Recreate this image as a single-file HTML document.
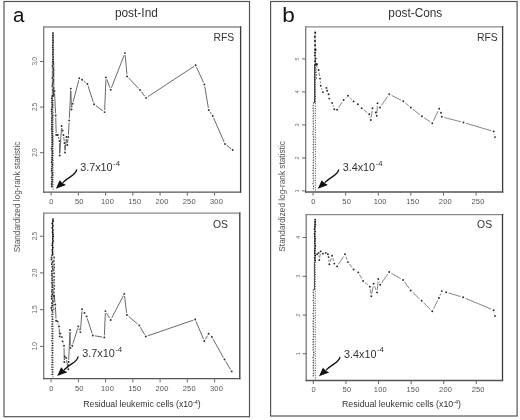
<!DOCTYPE html><html><head><meta charset="utf-8"><style>html,body{margin:0;padding:0;background:#fff;}svg{display:block;will-change:transform;}</style></head><body>
<svg width="520" height="420" viewBox="0 0 520 420" font-family="Liberation Sans, sans-serif">
<rect width="520" height="420" fill="#fff"/>
<rect x="4" y="1.5" width="245.5" height="415.2" fill="none" stroke="#555" stroke-width="1.2"/>
<rect x="270.6" y="1.5" width="246.5" height="414.5" fill="none" stroke="#555" stroke-width="1.2"/>
<text x="13.1" y="21.6" font-size="20.5" fill="#111">a</text>
<text transform="translate(282.2,21.8) scale(1.1,1)" font-size="20.5" fill="#111">b</text>
<text x="114.9" y="16.6" font-size="11.9" fill="#333">post-Ind</text>
<text x="388.3" y="16.5" font-size="11.85" fill="#333">post-Cons</text>
<text transform="translate(20.2,196.9) rotate(-90)" text-anchor="middle" font-size="8.25" fill="#555">Standardized log-rank statistic</text>
<text transform="translate(284.6,196.4) rotate(-90)" text-anchor="middle" font-size="8.25" fill="#555">Standardized log-rank statistic</text>
<text x="83.3" y="407.2" font-size="8.7" fill="#333">Residual leukemic cells (x10<tspan font-size="5.5" dy="-3.2">-4</tspan><tspan dy="3.2">)</tspan></text>
<text x="342" y="407.2" font-size="8.82" fill="#333">Residual leukemic cells (x10<tspan font-size="5.5" dy="-3.2">-4</tspan><tspan dy="3.2">)</tspan></text>
<line x1="43.7" y1="27" x2="43.7" y2="192.1" stroke="#7a7a7a" stroke-width="1.3" stroke-linecap="square"/><line x1="43.7" y1="27" x2="240.6" y2="27" stroke="#8a8a8a" stroke-width="1.3" stroke-linecap="square"/><line x1="240.6" y1="27" x2="240.6" y2="192.1" stroke="#3a3a3a" stroke-width="1.3" stroke-linecap="square"/><line x1="43.7" y1="192.1" x2="240.6" y2="192.1" stroke="#555" stroke-width="1.3" stroke-linecap="square"/>
<line x1="43.7" y1="213.2" x2="43.7" y2="378.7" stroke="#7a7a7a" stroke-width="1.3" stroke-linecap="square"/><line x1="43.7" y1="213.2" x2="239.8" y2="213.2" stroke="#8a8a8a" stroke-width="1.3" stroke-linecap="square"/><line x1="239.8" y1="213.2" x2="239.8" y2="378.7" stroke="#3a3a3a" stroke-width="1.3" stroke-linecap="square"/><line x1="43.7" y1="378.7" x2="239.8" y2="378.7" stroke="#555" stroke-width="1.3" stroke-linecap="square"/>
<line x1="305.7" y1="26.8" x2="305.7" y2="192" stroke="#7a7a7a" stroke-width="1.3" stroke-linecap="square"/><line x1="305.7" y1="26.8" x2="502.6" y2="26.8" stroke="#8a8a8a" stroke-width="1.3" stroke-linecap="square"/><line x1="502.6" y1="26.8" x2="502.6" y2="192" stroke="#3a3a3a" stroke-width="1.3" stroke-linecap="square"/><line x1="305.7" y1="192" x2="502.6" y2="192" stroke="#555" stroke-width="1.3" stroke-linecap="square"/>
<line x1="306.2" y1="214.6" x2="306.2" y2="380.5" stroke="#7a7a7a" stroke-width="1.3" stroke-linecap="square"/><line x1="306.2" y1="214.6" x2="502.5" y2="214.6" stroke="#8a8a8a" stroke-width="1.3" stroke-linecap="square"/><line x1="502.5" y1="214.6" x2="502.5" y2="380.5" stroke="#3a3a3a" stroke-width="1.3" stroke-linecap="square"/><line x1="306.2" y1="380.5" x2="502.5" y2="380.5" stroke="#555" stroke-width="1.3" stroke-linecap="square"/>
<line x1="51.1" y1="192.6" x2="51.1" y2="195.6" stroke="#555" stroke-width="0.9"/><text x="51.4" y="204.2" font-size="7.5" fill="#555" text-anchor="middle" letter-spacing="0.2">0</text><line x1="78.35" y1="192.6" x2="78.35" y2="195.6" stroke="#555" stroke-width="0.9"/><text x="79.35" y="204.2" font-size="7.5" fill="#555" text-anchor="middle" letter-spacing="0.2">50</text><line x1="105.6" y1="192.6" x2="105.6" y2="195.6" stroke="#555" stroke-width="0.9"/><text x="107.5" y="204.2" font-size="7.5" fill="#555" text-anchor="middle" letter-spacing="0.2">100</text><line x1="132.85" y1="192.6" x2="132.85" y2="195.6" stroke="#555" stroke-width="0.9"/><text x="134.75" y="204.2" font-size="7.5" fill="#555" text-anchor="middle" letter-spacing="0.2">150</text><line x1="160.1" y1="192.6" x2="160.1" y2="195.6" stroke="#555" stroke-width="0.9"/><text x="162" y="204.2" font-size="7.5" fill="#555" text-anchor="middle" letter-spacing="0.2">200</text><line x1="187.35" y1="192.6" x2="187.35" y2="195.6" stroke="#555" stroke-width="0.9"/><text x="189.25" y="204.2" font-size="7.5" fill="#555" text-anchor="middle" letter-spacing="0.2">250</text><line x1="214.6" y1="192.6" x2="214.6" y2="195.6" stroke="#555" stroke-width="0.9"/><text x="216.5" y="204.2" font-size="7.5" fill="#555" text-anchor="middle" letter-spacing="0.2">300</text>
<line x1="51.1" y1="379.3" x2="51.1" y2="382.3" stroke="#555" stroke-width="0.9"/><text x="51.4" y="390.6" font-size="7.5" fill="#555" text-anchor="middle" letter-spacing="0.2">0</text><line x1="78.35" y1="379.3" x2="78.35" y2="382.3" stroke="#555" stroke-width="0.9"/><text x="79.35" y="390.6" font-size="7.5" fill="#555" text-anchor="middle" letter-spacing="0.2">50</text><line x1="105.6" y1="379.3" x2="105.6" y2="382.3" stroke="#555" stroke-width="0.9"/><text x="107.5" y="390.6" font-size="7.5" fill="#555" text-anchor="middle" letter-spacing="0.2">100</text><line x1="132.85" y1="379.3" x2="132.85" y2="382.3" stroke="#555" stroke-width="0.9"/><text x="134.75" y="390.6" font-size="7.5" fill="#555" text-anchor="middle" letter-spacing="0.2">150</text><line x1="160.1" y1="379.3" x2="160.1" y2="382.3" stroke="#555" stroke-width="0.9"/><text x="162" y="390.6" font-size="7.5" fill="#555" text-anchor="middle" letter-spacing="0.2">200</text><line x1="187.35" y1="379.3" x2="187.35" y2="382.3" stroke="#555" stroke-width="0.9"/><text x="189.25" y="390.6" font-size="7.5" fill="#555" text-anchor="middle" letter-spacing="0.2">250</text><line x1="214.6" y1="379.3" x2="214.6" y2="382.3" stroke="#555" stroke-width="0.9"/><text x="216.5" y="390.6" font-size="7.5" fill="#555" text-anchor="middle" letter-spacing="0.2">300</text>
<line x1="313.1" y1="192.6" x2="313.1" y2="195.6" stroke="#555" stroke-width="0.9"/><text x="313.4" y="204" font-size="7.5" fill="#555" text-anchor="middle" letter-spacing="0.2">0</text><line x1="345.7" y1="192.6" x2="345.7" y2="195.6" stroke="#555" stroke-width="0.9"/><text x="346.7" y="204" font-size="7.5" fill="#555" text-anchor="middle" letter-spacing="0.2">50</text><line x1="378.3" y1="192.6" x2="378.3" y2="195.6" stroke="#555" stroke-width="0.9"/><text x="380.2" y="204" font-size="7.5" fill="#555" text-anchor="middle" letter-spacing="0.2">100</text><line x1="410.9" y1="192.6" x2="410.9" y2="195.6" stroke="#555" stroke-width="0.9"/><text x="412.8" y="204" font-size="7.5" fill="#555" text-anchor="middle" letter-spacing="0.2">150</text><line x1="443.5" y1="192.6" x2="443.5" y2="195.6" stroke="#555" stroke-width="0.9"/><text x="445.4" y="204" font-size="7.5" fill="#555" text-anchor="middle" letter-spacing="0.2">200</text><line x1="476.1" y1="192.6" x2="476.1" y2="195.6" stroke="#555" stroke-width="0.9"/><text x="478" y="204" font-size="7.5" fill="#555" text-anchor="middle" letter-spacing="0.2">250</text>
<line x1="313.3" y1="381.1" x2="313.3" y2="384.1" stroke="#555" stroke-width="0.9"/><text x="313.6" y="392.3" font-size="7.5" fill="#555" text-anchor="middle" letter-spacing="0.2">0</text><line x1="345.9" y1="381.1" x2="345.9" y2="384.1" stroke="#555" stroke-width="0.9"/><text x="346.9" y="392.3" font-size="7.5" fill="#555" text-anchor="middle" letter-spacing="0.2">50</text><line x1="378.5" y1="381.1" x2="378.5" y2="384.1" stroke="#555" stroke-width="0.9"/><text x="380.4" y="392.3" font-size="7.5" fill="#555" text-anchor="middle" letter-spacing="0.2">100</text><line x1="411.1" y1="381.1" x2="411.1" y2="384.1" stroke="#555" stroke-width="0.9"/><text x="413" y="392.3" font-size="7.5" fill="#555" text-anchor="middle" letter-spacing="0.2">150</text><line x1="443.7" y1="381.1" x2="443.7" y2="384.1" stroke="#555" stroke-width="0.9"/><text x="445.6" y="392.3" font-size="7.5" fill="#555" text-anchor="middle" letter-spacing="0.2">200</text><line x1="476.3" y1="381.1" x2="476.3" y2="384.1" stroke="#555" stroke-width="0.9"/><text x="478.2" y="392.3" font-size="7.5" fill="#555" text-anchor="middle" letter-spacing="0.2">250</text>
<line x1="40" y1="61.5" x2="43.6" y2="61.5" stroke="#555" stroke-width="0.9"/><text transform="translate(37.1,61.5) rotate(-90)" text-anchor="middle" font-size="6.6" fill="#6a6a6a" letter-spacing="-0.4">3.0</text><line x1="40" y1="107.1" x2="43.6" y2="107.1" stroke="#555" stroke-width="0.9"/><text transform="translate(37.1,107.1) rotate(-90)" text-anchor="middle" font-size="6.6" fill="#6a6a6a" letter-spacing="-0.4">2.5</text><line x1="40" y1="152.7" x2="43.6" y2="152.7" stroke="#555" stroke-width="0.9"/><text transform="translate(37.1,152.7) rotate(-90)" text-anchor="middle" font-size="6.6" fill="#6a6a6a" letter-spacing="-0.4">2.0</text>
<line x1="40" y1="236.2" x2="43.6" y2="236.2" stroke="#555" stroke-width="0.9"/><text transform="translate(37.1,236.2) rotate(-90)" text-anchor="middle" font-size="6.6" fill="#6a6a6a" letter-spacing="-0.4">2.5</text><line x1="40" y1="272.9" x2="43.6" y2="272.9" stroke="#555" stroke-width="0.9"/><text transform="translate(37.1,272.9) rotate(-90)" text-anchor="middle" font-size="6.6" fill="#6a6a6a" letter-spacing="-0.4">2.0</text><line x1="40" y1="309.7" x2="43.6" y2="309.7" stroke="#555" stroke-width="0.9"/><text transform="translate(37.1,309.7) rotate(-90)" text-anchor="middle" font-size="6.6" fill="#6a6a6a" letter-spacing="-0.4">1.5</text><line x1="40" y1="346.4" x2="43.6" y2="346.4" stroke="#555" stroke-width="0.9"/><text transform="translate(37.1,346.4) rotate(-90)" text-anchor="middle" font-size="6.6" fill="#6a6a6a" letter-spacing="-0.4">1.0</text>
<line x1="302.1" y1="58.9" x2="305.7" y2="58.9" stroke="#555" stroke-width="0.9"/><text transform="translate(299.2,58.9) rotate(-90)" text-anchor="middle" font-size="5.6" fill="#6a6a6a" letter-spacing="0">5</text><line x1="302.1" y1="91.9" x2="305.7" y2="91.9" stroke="#555" stroke-width="0.9"/><text transform="translate(299.2,91.9) rotate(-90)" text-anchor="middle" font-size="5.6" fill="#6a6a6a" letter-spacing="0">4</text><line x1="302.1" y1="124.9" x2="305.7" y2="124.9" stroke="#555" stroke-width="0.9"/><text transform="translate(299.2,124.9) rotate(-90)" text-anchor="middle" font-size="5.6" fill="#6a6a6a" letter-spacing="0">3</text><line x1="302.1" y1="157.9" x2="305.7" y2="157.9" stroke="#555" stroke-width="0.9"/><text transform="translate(299.2,157.9) rotate(-90)" text-anchor="middle" font-size="5.6" fill="#6a6a6a" letter-spacing="0">2</text><line x1="302.1" y1="190.9" x2="305.7" y2="190.9" stroke="#555" stroke-width="0.9"/><text transform="translate(299.2,190.9) rotate(-90)" text-anchor="middle" font-size="5.6" fill="#6a6a6a" letter-spacing="0">1</text>
<line x1="302.6" y1="237.5" x2="306.2" y2="237.5" stroke="#555" stroke-width="0.9"/><text transform="translate(299.7,237.5) rotate(-90)" text-anchor="middle" font-size="5.6" fill="#6a6a6a" letter-spacing="0">4</text><line x1="302.6" y1="276.3" x2="306.2" y2="276.3" stroke="#555" stroke-width="0.9"/><text transform="translate(299.7,276.3) rotate(-90)" text-anchor="middle" font-size="5.6" fill="#6a6a6a" letter-spacing="0">3</text><line x1="302.6" y1="315.1" x2="306.2" y2="315.1" stroke="#555" stroke-width="0.9"/><text transform="translate(299.7,315.1) rotate(-90)" text-anchor="middle" font-size="5.6" fill="#6a6a6a" letter-spacing="0">2</text><line x1="302.6" y1="353.8" x2="306.2" y2="353.8" stroke="#555" stroke-width="0.9"/><text transform="translate(299.7,353.8) rotate(-90)" text-anchor="middle" font-size="5.6" fill="#6a6a6a" letter-spacing="0">1</text>
<text x="213.4" y="41" font-size="10.4" fill="#333">RFS</text>
<text x="212.9" y="228.4" font-size="10.4" fill="#333">OS</text>
<text x="477.0" y="41.2" font-size="10.4" fill="#333">RFS</text>
<text x="477.1" y="228.4" font-size="10.4" fill="#333">OS</text>
<rect x="52.5" y="32.5" width="1" height="29.5" fill="#222" fill-opacity="1.0"/><circle cx="52.87" cy="33" r="0.75" fill="#111"/><circle cx="53.02" cy="35.4" r="0.75" fill="#111"/><circle cx="52.93" cy="37.8" r="0.75" fill="#111"/><circle cx="53.05" cy="40.2" r="0.75" fill="#111"/><circle cx="53.06" cy="42.6" r="0.75" fill="#111"/><circle cx="52.78" cy="45" r="0.75" fill="#111"/><circle cx="52.76" cy="47.4" r="0.75" fill="#111"/><circle cx="53.17" cy="49.8" r="0.75" fill="#111"/><circle cx="52.88" cy="52.2" r="0.75" fill="#111"/><circle cx="52.87" cy="54.6" r="0.75" fill="#111"/><circle cx="53.25" cy="57" r="0.75" fill="#111"/><circle cx="52.99" cy="59.4" r="0.75" fill="#111"/><circle cx="53.17" cy="61.8" r="0.75" fill="#111"/><rect x="51.8" y="62" width="2.6" height="34" fill="#555" fill-opacity="0.6"/><circle cx="52.96" cy="62" r="0.8" fill="#111"/><circle cx="53.25" cy="64" r="0.8" fill="#111"/><circle cx="52.37" cy="66" r="0.8" fill="#111"/><circle cx="53.24" cy="68" r="0.8" fill="#111"/><circle cx="53.66" cy="70" r="0.8" fill="#111"/><circle cx="53.04" cy="72" r="0.8" fill="#111"/><circle cx="53.43" cy="74" r="0.8" fill="#111"/><circle cx="53.31" cy="76" r="0.8" fill="#111"/><circle cx="52.22" cy="78" r="0.8" fill="#111"/><circle cx="53.46" cy="80" r="0.8" fill="#111"/><circle cx="53.16" cy="82" r="0.8" fill="#111"/><circle cx="52.64" cy="84" r="0.8" fill="#111"/><circle cx="52.16" cy="86" r="0.8" fill="#111"/><circle cx="53.66" cy="88" r="0.8" fill="#111"/><circle cx="52.95" cy="90" r="0.8" fill="#111"/><circle cx="53.39" cy="92" r="0.8" fill="#111"/><circle cx="53.68" cy="94" r="0.8" fill="#111"/><circle cx="53.39" cy="96" r="0.8" fill="#111"/><circle cx="52.34" cy="96" r="0.95" fill="#1a1a1a"/><circle cx="51.92" cy="98.2" r="0.95" fill="#1a1a1a"/><circle cx="52.24" cy="100.4" r="0.95" fill="#1a1a1a"/><circle cx="51.96" cy="102.6" r="0.95" fill="#1a1a1a"/><circle cx="52.35" cy="104.8" r="0.95" fill="#1a1a1a"/><circle cx="52.3" cy="107" r="0.95" fill="#1a1a1a"/><circle cx="51.68" cy="109.2" r="0.95" fill="#1a1a1a"/><circle cx="51.71" cy="111.4" r="0.95" fill="#1a1a1a"/><circle cx="51.77" cy="113.6" r="0.95" fill="#1a1a1a"/><circle cx="52.37" cy="115.8" r="0.95" fill="#1a1a1a"/><circle cx="51.95" cy="118" r="0.95" fill="#1a1a1a"/><circle cx="52.1" cy="120.2" r="0.95" fill="#1a1a1a"/><circle cx="51.84" cy="122.4" r="0.95" fill="#1a1a1a"/><circle cx="52.01" cy="124.6" r="0.95" fill="#1a1a1a"/><circle cx="51.91" cy="126.8" r="0.95" fill="#1a1a1a"/><circle cx="51.88" cy="129" r="0.95" fill="#1a1a1a"/><circle cx="52.07" cy="131.2" r="0.95" fill="#1a1a1a"/><circle cx="52.07" cy="133.4" r="0.95" fill="#1a1a1a"/><circle cx="52.32" cy="135.6" r="0.95" fill="#1a1a1a"/><circle cx="52.15" cy="137.8" r="0.95" fill="#1a1a1a"/><circle cx="52.34" cy="140" r="0.95" fill="#1a1a1a"/><circle cx="52.29" cy="142.2" r="0.95" fill="#1a1a1a"/><circle cx="52.39" cy="144.4" r="0.95" fill="#1a1a1a"/><circle cx="52.14" cy="146.6" r="0.95" fill="#1a1a1a"/><circle cx="51.73" cy="148.8" r="0.95" fill="#1a1a1a"/><circle cx="52.29" cy="151" r="0.95" fill="#1a1a1a"/><circle cx="52.37" cy="153.2" r="0.95" fill="#1a1a1a"/><circle cx="52.32" cy="155.4" r="0.95" fill="#1a1a1a"/><circle cx="52.06" cy="157.6" r="0.95" fill="#1a1a1a"/><circle cx="52.17" cy="159.8" r="0.95" fill="#1a1a1a"/><circle cx="51.77" cy="162" r="0.95" fill="#1a1a1a"/><circle cx="52.27" cy="164.2" r="0.95" fill="#1a1a1a"/><circle cx="52.06" cy="166.4" r="0.95" fill="#1a1a1a"/><circle cx="51.83" cy="168.6" r="0.95" fill="#1a1a1a"/><circle cx="51.65" cy="170.8" r="0.95" fill="#1a1a1a"/><circle cx="52.28" cy="173" r="0.95" fill="#1a1a1a"/><circle cx="52.39" cy="175.2" r="0.95" fill="#1a1a1a"/><circle cx="51.67" cy="177.4" r="0.95" fill="#1a1a1a"/><circle cx="52.24" cy="179.6" r="0.95" fill="#1a1a1a"/><circle cx="51.93" cy="181.8" r="0.95" fill="#1a1a1a"/><circle cx="51.72" cy="184" r="0.95" fill="#1a1a1a"/><circle cx="51.84" cy="186.2" r="0.95" fill="#1a1a1a"/><rect x="51.6" y="96" width="1" height="92" fill="#555" fill-opacity="0.6"/><path d="M54.6,93.1L55.6,113.4M55.75,117.6L56.15,132.9M58.37,137.02L58.93,138.98M59.53,143.1L59.67,153.4M59.83,153.4L61.47,128.1M62.06,128.05L62.14,128.45M63.01,132.56L63.09,132.94M63.76,137.08L64.24,140.92M64.61,145.1L64.89,150.3M65.19,150.31L66.21,139.09M66.63,139.09L67.07,142.91M67.56,142.92L68.04,139.08M68.41,134.9L69.09,122.5M69.31,118.3L70.69,90.7M70.87,90.7L71.43,107.4M71.9,107.44L72.2,105.86M73.13,101.77L78.77,80.33M83.73,81.02L85.77,82.68M88.05,86L93.35,102.3M95.69,105.54L102.91,110.86M104.68,110L105.92,79.5M106.75,79.36L109.95,87.74M111.46,87.74L124.24,55.06M125.19,55.19L126.91,74.31M128.55,77.92L138.55,88.48M141.27,91.67L144.73,96.23M147.75,96.75L193.85,66.45M196.48,67.21L203.52,82.49M204.75,86.47L208.35,107.93M209.86,111.75L211.54,114.25M213.54,117.92L224.16,142.08M226.66,145.29L231.04,148.71" fill="none" stroke="#505050" stroke-width="0.85"/><circle cx="54.5" cy="91" r="0.95" fill="#2a2a2a"/><circle cx="55.7" cy="115.5" r="0.95" fill="#2a2a2a"/><circle cx="56.2" cy="135" r="0.95" fill="#2a2a2a"/><circle cx="57.8" cy="135" r="0.95" fill="#2a2a2a"/><circle cx="59.5" cy="141" r="0.95" fill="#2a2a2a"/><circle cx="59.7" cy="155.5" r="0.95" fill="#2a2a2a"/><circle cx="61.6" cy="126" r="0.95" fill="#2a2a2a"/><circle cx="62.6" cy="130.5" r="0.95" fill="#2a2a2a"/><circle cx="63.5" cy="135" r="0.95" fill="#2a2a2a"/><circle cx="64.5" cy="143" r="0.95" fill="#2a2a2a"/><circle cx="65" cy="152.4" r="0.95" fill="#2a2a2a"/><circle cx="66.4" cy="137" r="0.95" fill="#2a2a2a"/><circle cx="67.3" cy="145" r="0.95" fill="#2a2a2a"/><circle cx="68.3" cy="137" r="0.95" fill="#2a2a2a"/><circle cx="69.2" cy="120.4" r="0.95" fill="#2a2a2a"/><circle cx="70.8" cy="88.6" r="0.95" fill="#2a2a2a"/><circle cx="71.5" cy="109.5" r="0.95" fill="#2a2a2a"/><circle cx="72.6" cy="103.8" r="0.95" fill="#2a2a2a"/><circle cx="79.3" cy="78.3" r="0.95" fill="#2a2a2a"/><circle cx="82.1" cy="79.7" r="0.95" fill="#2a2a2a"/><circle cx="87.4" cy="84" r="0.95" fill="#2a2a2a"/><circle cx="94" cy="104.3" r="0.95" fill="#2a2a2a"/><circle cx="104.6" cy="112.1" r="0.95" fill="#2a2a2a"/><circle cx="106" cy="77.4" r="0.95" fill="#2a2a2a"/><circle cx="110.7" cy="89.7" r="0.95" fill="#2a2a2a"/><circle cx="125" cy="53.1" r="0.95" fill="#2a2a2a"/><circle cx="127.1" cy="76.4" r="0.95" fill="#2a2a2a"/><circle cx="140" cy="90" r="0.95" fill="#2a2a2a"/><circle cx="146" cy="97.9" r="0.95" fill="#2a2a2a"/><circle cx="195.6" cy="65.3" r="0.95" fill="#2a2a2a"/><circle cx="204.4" cy="84.4" r="0.95" fill="#2a2a2a"/><circle cx="208.7" cy="110" r="0.95" fill="#2a2a2a"/><circle cx="212.7" cy="116" r="0.95" fill="#2a2a2a"/><circle cx="225" cy="144" r="0.95" fill="#2a2a2a"/><circle cx="232.7" cy="150" r="0.95" fill="#2a2a2a"/>
<rect x="52.1" y="219" width="1.2" height="36" fill="#333" fill-opacity="0.9"/><circle cx="53.02" cy="219" r="0.85" fill="#111"/><circle cx="53.15" cy="221.2" r="0.85" fill="#111"/><circle cx="52.15" cy="223.4" r="0.85" fill="#111"/><circle cx="52.84" cy="225.6" r="0.85" fill="#111"/><circle cx="52.15" cy="227.8" r="0.85" fill="#111"/><circle cx="52.96" cy="230" r="0.85" fill="#111"/><circle cx="52.5" cy="232.2" r="0.85" fill="#111"/><circle cx="53.16" cy="234.4" r="0.85" fill="#111"/><circle cx="53.28" cy="236.6" r="0.85" fill="#111"/><circle cx="52.71" cy="238.8" r="0.85" fill="#111"/><circle cx="53.3" cy="241" r="0.85" fill="#111"/><circle cx="52.47" cy="243.2" r="0.85" fill="#111"/><circle cx="52.19" cy="245.4" r="0.85" fill="#111"/><circle cx="52.82" cy="247.6" r="0.85" fill="#111"/><circle cx="52.14" cy="249.8" r="0.85" fill="#111"/><circle cx="52.34" cy="252" r="0.85" fill="#111"/><circle cx="52.59" cy="254.2" r="0.85" fill="#111"/><polyline points="51,255 54.8,257 51,259 54.8,261 51,263 54.8,265 51,267 54.8,269 51,271 54.8,273 51,275 54.8,277 51,279 54.8,281 51,283 54.8,285 51,287 54.8,289 51,291 54.8,293 51,295 54.8,297 51,299 54.8,301 51,303 54.8,305 51,307 54.8,309 51,311" fill="none" stroke="#555" stroke-width="0.6" stroke-linejoin="round" /><circle cx="52.18" cy="255" r="0.85" fill="#222"/><circle cx="51.45" cy="257.3" r="0.85" fill="#222"/><circle cx="51.27" cy="259.6" r="0.85" fill="#222"/><circle cx="52.59" cy="261.9" r="0.85" fill="#222"/><circle cx="51.7" cy="264.2" r="0.85" fill="#222"/><circle cx="52.73" cy="266.5" r="0.85" fill="#222"/><circle cx="52.63" cy="268.8" r="0.85" fill="#222"/><circle cx="51.8" cy="271.1" r="0.85" fill="#222"/><circle cx="51.94" cy="273.4" r="0.85" fill="#222"/><circle cx="52.03" cy="275.7" r="0.85" fill="#222"/><circle cx="52.23" cy="278" r="0.85" fill="#222"/><circle cx="52.15" cy="280.3" r="0.85" fill="#222"/><circle cx="52.09" cy="282.6" r="0.85" fill="#222"/><circle cx="52.19" cy="284.9" r="0.85" fill="#222"/><circle cx="52.7" cy="287.2" r="0.85" fill="#222"/><circle cx="52.01" cy="289.5" r="0.85" fill="#222"/><circle cx="51.89" cy="291.8" r="0.85" fill="#222"/><circle cx="52.35" cy="294.1" r="0.85" fill="#222"/><circle cx="51.58" cy="296.4" r="0.85" fill="#222"/><circle cx="51.68" cy="298.7" r="0.85" fill="#222"/><circle cx="52.76" cy="301" r="0.85" fill="#222"/><circle cx="52.03" cy="303.3" r="0.85" fill="#222"/><circle cx="52.08" cy="305.6" r="0.85" fill="#222"/><circle cx="51.22" cy="307.9" r="0.85" fill="#222"/><circle cx="51.86" cy="310.2" r="0.85" fill="#222"/><circle cx="54.26" cy="258" r="0.75" fill="#333"/><circle cx="53.82" cy="261.1" r="0.75" fill="#333"/><circle cx="54.29" cy="264.2" r="0.75" fill="#333"/><circle cx="54.31" cy="267.3" r="0.75" fill="#333"/><circle cx="53.85" cy="270.4" r="0.75" fill="#333"/><circle cx="54.3" cy="273.5" r="0.75" fill="#333"/><circle cx="54.17" cy="276.6" r="0.75" fill="#333"/><circle cx="54.34" cy="279.7" r="0.75" fill="#333"/><circle cx="54.08" cy="282.8" r="0.75" fill="#333"/><circle cx="54.37" cy="285.9" r="0.75" fill="#333"/><circle cx="54.39" cy="289" r="0.75" fill="#333"/><circle cx="53.82" cy="292.1" r="0.75" fill="#333"/><circle cx="53.85" cy="295.2" r="0.75" fill="#333"/><circle cx="54.34" cy="298.3" r="0.75" fill="#333"/><circle cx="52.48" cy="312" r="0.8" fill="#222"/><circle cx="52.05" cy="314.4" r="0.8" fill="#222"/><circle cx="52.17" cy="316.8" r="0.8" fill="#222"/><circle cx="52.26" cy="319.2" r="0.8" fill="#222"/><circle cx="52.09" cy="321.6" r="0.8" fill="#222"/><circle cx="52.12" cy="324" r="0.8" fill="#222"/><circle cx="52.09" cy="326.4" r="0.8" fill="#222"/><circle cx="52.12" cy="328.8" r="0.8" fill="#222"/><circle cx="52.26" cy="331.2" r="0.8" fill="#222"/><circle cx="52.08" cy="333.6" r="0.8" fill="#222"/><circle cx="52.13" cy="336" r="0.8" fill="#222"/><circle cx="52.36" cy="338.4" r="0.8" fill="#222"/><circle cx="51.92" cy="340.8" r="0.8" fill="#222"/><circle cx="52.24" cy="343.2" r="0.8" fill="#222"/><circle cx="52.34" cy="345.6" r="0.8" fill="#222"/><circle cx="52.09" cy="348" r="0.8" fill="#222"/><circle cx="52.03" cy="350.4" r="0.8" fill="#222"/><circle cx="52.38" cy="352.8" r="0.8" fill="#222"/><circle cx="52.04" cy="355.2" r="0.8" fill="#222"/><circle cx="52.01" cy="357.6" r="0.8" fill="#222"/><circle cx="52.16" cy="360" r="0.8" fill="#222"/><circle cx="52.32" cy="362.4" r="0.8" fill="#222"/><circle cx="51.96" cy="364.8" r="0.8" fill="#222"/><circle cx="52.09" cy="367.2" r="0.8" fill="#222"/><circle cx="52.1" cy="369.6" r="0.8" fill="#222"/><circle cx="52.4" cy="372" r="0.8" fill="#222"/><circle cx="52.16" cy="374.4" r="0.8" fill="#222"/><path d="M54.39,298.08L55.01,302.42M55.4,306.6L56,318.6M58.17,323.42L58.43,324.38M59.15,328.49L59.55,334.31M63.25,343.4L63.35,343.7M64.04,347.8L64.26,359.9M64.45,359.91L64.55,358.49M66.5,359.96L67.9,367.24M68.39,367.2L68.51,364.1M68.69,359.9L69.91,332.1M70.05,332.1L70.35,345.8M72.92,343.69L77.68,328.41M79.03,328.37L79.67,330.13M80.56,330.01L81.94,311.39M87.25,318.4L92.15,333.5M94.87,335.84L102.23,337.06M104.39,335.3L105.31,313.2M106.47,312.9L109.63,318.2M111.67,318.14L123.33,295.76M124.56,295.98L126.64,312.92M128.51,316.35L137.69,324.05M140.36,327.21L144.74,334.69M147.79,335.82L193.21,320.18M196.02,321.43L203.48,339.07M205.38,339.2L207.52,335.6M210.13,335.24L210.37,335.46M212.92,338.73L223.48,357.67M225.59,361.3L230.61,369.6" fill="none" stroke="#505050" stroke-width="0.85"/><circle cx="54.1" cy="296" r="0.95" fill="#2a2a2a"/><circle cx="55.3" cy="304.5" r="0.95" fill="#2a2a2a"/><circle cx="56.1" cy="320.7" r="0.95" fill="#2a2a2a"/><circle cx="57.6" cy="321.4" r="0.95" fill="#2a2a2a"/><circle cx="59" cy="326.4" r="0.95" fill="#2a2a2a"/><circle cx="59.7" cy="336.4" r="0.95" fill="#2a2a2a"/><circle cx="60.4" cy="333.6" r="0.95" fill="#2a2a2a"/><circle cx="61.9" cy="337.1" r="0.95" fill="#2a2a2a"/><circle cx="62.6" cy="341.4" r="0.95" fill="#2a2a2a"/><circle cx="64" cy="345.7" r="0.95" fill="#2a2a2a"/><circle cx="64.3" cy="362" r="0.95" fill="#2a2a2a"/><circle cx="64.7" cy="356.4" r="0.95" fill="#2a2a2a"/><circle cx="66.1" cy="357.9" r="0.95" fill="#2a2a2a"/><circle cx="68.3" cy="369.3" r="0.95" fill="#2a2a2a"/><circle cx="68.6" cy="362" r="0.95" fill="#2a2a2a"/><circle cx="70" cy="330" r="0.95" fill="#2a2a2a"/><circle cx="70.4" cy="347.9" r="0.95" fill="#2a2a2a"/><circle cx="72.3" cy="345.7" r="0.95" fill="#2a2a2a"/><circle cx="78.3" cy="326.4" r="0.95" fill="#2a2a2a"/><circle cx="80.4" cy="332.1" r="0.95" fill="#2a2a2a"/><circle cx="82.1" cy="309.3" r="0.95" fill="#2a2a2a"/><circle cx="84.5" cy="312.9" r="0.95" fill="#2a2a2a"/><circle cx="86.6" cy="316.4" r="0.95" fill="#2a2a2a"/><circle cx="92.8" cy="335.5" r="0.95" fill="#2a2a2a"/><circle cx="104.3" cy="337.4" r="0.95" fill="#2a2a2a"/><circle cx="105.4" cy="311.1" r="0.95" fill="#2a2a2a"/><circle cx="110.7" cy="320" r="0.95" fill="#2a2a2a"/><circle cx="124.3" cy="293.9" r="0.95" fill="#2a2a2a"/><circle cx="126.9" cy="315" r="0.95" fill="#2a2a2a"/><circle cx="139.3" cy="325.4" r="0.95" fill="#2a2a2a"/><circle cx="145.8" cy="336.5" r="0.95" fill="#2a2a2a"/><circle cx="195.2" cy="319.5" r="0.95" fill="#2a2a2a"/><circle cx="204.3" cy="341" r="0.95" fill="#2a2a2a"/><circle cx="208.6" cy="333.8" r="0.95" fill="#2a2a2a"/><circle cx="211.9" cy="336.9" r="0.95" fill="#2a2a2a"/><circle cx="224.5" cy="359.5" r="0.95" fill="#2a2a2a"/><circle cx="231.7" cy="371.4" r="0.95" fill="#2a2a2a"/>
<rect x="314.7" y="33" width="0.7" height="31" fill="#777" fill-opacity="1.0"/><circle cx="315.21" cy="32.6" r="1.05" fill="#1a1a1a"/><circle cx="314.8" cy="36.8" r="1.05" fill="#1a1a1a"/><circle cx="314.9" cy="41" r="1.05" fill="#1a1a1a"/><circle cx="315.09" cy="45.2" r="1.05" fill="#1a1a1a"/><circle cx="315.23" cy="49.4" r="1.05" fill="#1a1a1a"/><circle cx="315.51" cy="50" r="1.0" fill="#1a1a1a"/><circle cx="315.11" cy="52.8" r="1.0" fill="#1a1a1a"/><circle cx="314.92" cy="55.6" r="1.0" fill="#1a1a1a"/><circle cx="315.65" cy="58.4" r="1.0" fill="#1a1a1a"/><circle cx="315.04" cy="61.2" r="1.0" fill="#1a1a1a"/><circle cx="316.15" cy="64" r="1.0" fill="#1a1a1a"/><rect x="314.1" y="64" width="1.2" height="39" fill="#333" fill-opacity="1.0"/><circle cx="316.67" cy="66" r="0.7" fill="#555"/><circle cx="316.15" cy="69" r="0.7" fill="#555"/><circle cx="316.22" cy="72" r="0.7" fill="#555"/><circle cx="316.65" cy="75" r="0.7" fill="#555"/><circle cx="316.51" cy="78" r="0.7" fill="#555"/><circle cx="313.48" cy="103" r="0.75" fill="#555"/><circle cx="313.21" cy="105.6" r="0.75" fill="#555"/><circle cx="313.08" cy="108.2" r="0.75" fill="#555"/><circle cx="313.18" cy="110.8" r="0.75" fill="#555"/><circle cx="313.48" cy="113.4" r="0.75" fill="#555"/><circle cx="313.16" cy="116" r="0.75" fill="#555"/><circle cx="313.21" cy="118.6" r="0.75" fill="#555"/><circle cx="313.25" cy="121.2" r="0.75" fill="#555"/><circle cx="313.25" cy="123.8" r="0.75" fill="#555"/><circle cx="313.25" cy="126.4" r="0.75" fill="#555"/><circle cx="313.55" cy="129" r="0.75" fill="#555"/><circle cx="313.09" cy="131.6" r="0.75" fill="#555"/><circle cx="313" cy="134.2" r="0.75" fill="#555"/><circle cx="313.57" cy="136.8" r="0.75" fill="#555"/><circle cx="313.53" cy="139.4" r="0.75" fill="#555"/><circle cx="313.59" cy="142" r="0.75" fill="#555"/><circle cx="313.26" cy="144.6" r="0.75" fill="#555"/><circle cx="313.57" cy="147.2" r="0.75" fill="#555"/><circle cx="313.56" cy="149.8" r="0.75" fill="#555"/><circle cx="313.13" cy="152.4" r="0.75" fill="#555"/><circle cx="313.45" cy="155" r="0.75" fill="#555"/><circle cx="313.5" cy="157.6" r="0.75" fill="#555"/><circle cx="313.4" cy="160.2" r="0.75" fill="#555"/><circle cx="313.31" cy="162.8" r="0.75" fill="#555"/><circle cx="313.17" cy="165.4" r="0.75" fill="#555"/><circle cx="313.2" cy="168" r="0.75" fill="#555"/><circle cx="313.14" cy="170.6" r="0.75" fill="#555"/><circle cx="313.04" cy="173.2" r="0.75" fill="#555"/><circle cx="313.35" cy="175.8" r="0.75" fill="#555"/><circle cx="313.17" cy="178.4" r="0.75" fill="#555"/><circle cx="313.49" cy="181" r="0.75" fill="#555"/><circle cx="313.03" cy="183.6" r="0.75" fill="#555"/><circle cx="313.54" cy="186.2" r="0.75" fill="#555"/><circle cx="313.42" cy="188.8" r="0.75" fill="#555"/><rect x="313" y="103" width="0.7" height="86" fill="#999" fill-opacity="0.5"/><path d="M317.76,66.81L317.94,67.49M319.02,72.57L319.58,76.03M320.26,81.19L320.44,83.11M321.55,88.16L322.05,89.64M332.95,105.36L333.45,106.84M338.55,107.54L342.15,102.16M345.44,98.16L346.06,97.54M349.74,97.54L351.76,99.56M359.69,106.18L359.91,106.42M363.74,109.91L367.16,112.59M369.89,116.71L370.11,117.49M371.17,117.43L372.13,110.87M376.87,113.21L377.33,105.89M381.48,105.36L387.72,96.34M391.52,95.37L400.98,100.13M405.3,102.96L408.8,105.84M412.84,109.12L419.86,114.68M424.07,117.74L430.13,121.76M433.42,120.85L438.08,111.05M444.31,117.46L460.99,121.84M465.99,123.24L491.21,130.76M494.29,134.03L494.41,134.57" fill="none" stroke="#707070" stroke-width="0.85"/><circle cx="315.8" cy="65" r="0.95" fill="#2a2a2a"/><circle cx="317.1" cy="64.3" r="0.95" fill="#2a2a2a"/><circle cx="318.6" cy="70" r="0.95" fill="#2a2a2a"/><circle cx="320" cy="78.6" r="0.95" fill="#2a2a2a"/><circle cx="320.7" cy="85.7" r="0.95" fill="#2a2a2a"/><circle cx="322.9" cy="92.1" r="0.95" fill="#2a2a2a"/><circle cx="326.4" cy="87.9" r="0.95" fill="#2a2a2a"/><circle cx="327.1" cy="90.7" r="0.95" fill="#2a2a2a"/><circle cx="328.6" cy="94.3" r="0.95" fill="#2a2a2a"/><circle cx="329.3" cy="98.6" r="0.95" fill="#2a2a2a"/><circle cx="332.1" cy="102.9" r="0.95" fill="#2a2a2a"/><circle cx="334.3" cy="109.3" r="0.95" fill="#2a2a2a"/><circle cx="337.1" cy="109.7" r="0.95" fill="#2a2a2a"/><circle cx="343.6" cy="100" r="0.95" fill="#2a2a2a"/><circle cx="347.9" cy="95.7" r="0.95" fill="#2a2a2a"/><circle cx="353.6" cy="101.4" r="0.95" fill="#2a2a2a"/><circle cx="357.9" cy="104.3" r="0.95" fill="#2a2a2a"/><circle cx="361.7" cy="108.3" r="0.95" fill="#2a2a2a"/><circle cx="369.2" cy="114.2" r="0.95" fill="#2a2a2a"/><circle cx="370.8" cy="120" r="0.95" fill="#2a2a2a"/><circle cx="372.5" cy="108.3" r="0.95" fill="#2a2a2a"/><circle cx="375.8" cy="112.5" r="0.95" fill="#2a2a2a"/><circle cx="376.7" cy="115.8" r="0.95" fill="#2a2a2a"/><circle cx="377.5" cy="103.3" r="0.95" fill="#2a2a2a"/><circle cx="380" cy="107.5" r="0.95" fill="#2a2a2a"/><circle cx="389.2" cy="94.2" r="0.95" fill="#2a2a2a"/><circle cx="403.3" cy="101.3" r="0.95" fill="#2a2a2a"/><circle cx="410.8" cy="107.5" r="0.95" fill="#2a2a2a"/><circle cx="421.9" cy="116.3" r="0.95" fill="#2a2a2a"/><circle cx="432.3" cy="123.2" r="0.95" fill="#2a2a2a"/><circle cx="439.2" cy="108.7" r="0.95" fill="#2a2a2a"/><circle cx="441" cy="112.8" r="0.95" fill="#2a2a2a"/><circle cx="441.8" cy="116.8" r="0.95" fill="#2a2a2a"/><circle cx="463.5" cy="122.5" r="0.95" fill="#2a2a2a"/><circle cx="493.7" cy="131.5" r="0.95" fill="#2a2a2a"/><circle cx="495" cy="137.1" r="0.95" fill="#2a2a2a"/>
<rect x="314.3" y="219.5" width="1.2" height="42.5" fill="#444" fill-opacity="0.85"/><circle cx="315.32" cy="219.5" r="0.85" fill="#111"/><circle cx="315.3" cy="221.9" r="0.85" fill="#111"/><circle cx="315.3" cy="224.3" r="0.85" fill="#111"/><circle cx="314.98" cy="226.7" r="0.85" fill="#111"/><circle cx="314.41" cy="229.1" r="0.85" fill="#111"/><circle cx="315.15" cy="231.5" r="0.85" fill="#111"/><circle cx="314.57" cy="233.9" r="0.85" fill="#111"/><circle cx="314.7" cy="236.3" r="0.85" fill="#111"/><circle cx="315.06" cy="238.7" r="0.85" fill="#111"/><circle cx="314.92" cy="241.1" r="0.85" fill="#111"/><circle cx="314.81" cy="243.5" r="0.85" fill="#111"/><circle cx="315.34" cy="245.9" r="0.85" fill="#111"/><circle cx="315.01" cy="248.3" r="0.85" fill="#111"/><circle cx="314.74" cy="250.7" r="0.85" fill="#111"/><circle cx="314.65" cy="253.1" r="0.85" fill="#111"/><circle cx="315.26" cy="255.5" r="0.85" fill="#111"/><circle cx="314.88" cy="257.9" r="0.85" fill="#111"/><circle cx="315.18" cy="260.3" r="0.85" fill="#111"/><rect x="313.9" y="262" width="0.9" height="28" fill="#333" fill-opacity="1.0"/><circle cx="313.31" cy="290" r="0.75" fill="#444"/><circle cx="313.22" cy="292.6" r="0.75" fill="#444"/><circle cx="313.42" cy="295.2" r="0.75" fill="#444"/><circle cx="313.59" cy="297.8" r="0.75" fill="#444"/><circle cx="313.2" cy="300.4" r="0.75" fill="#444"/><circle cx="313.58" cy="303" r="0.75" fill="#444"/><circle cx="313.65" cy="305.6" r="0.75" fill="#444"/><circle cx="313.58" cy="308.2" r="0.75" fill="#444"/><circle cx="313.59" cy="310.8" r="0.75" fill="#444"/><circle cx="313.1" cy="313.4" r="0.75" fill="#444"/><circle cx="313.48" cy="316" r="0.75" fill="#444"/><circle cx="313.62" cy="318.6" r="0.75" fill="#444"/><circle cx="313.13" cy="321.2" r="0.75" fill="#444"/><circle cx="313.26" cy="323.8" r="0.75" fill="#444"/><circle cx="313.26" cy="326.4" r="0.75" fill="#444"/><circle cx="313.42" cy="329" r="0.75" fill="#444"/><circle cx="313.35" cy="331.6" r="0.75" fill="#444"/><circle cx="313.38" cy="334.2" r="0.75" fill="#444"/><circle cx="313.57" cy="336.8" r="0.75" fill="#444"/><circle cx="313.1" cy="339.4" r="0.75" fill="#444"/><circle cx="313.13" cy="342" r="0.75" fill="#444"/><circle cx="313.18" cy="344.6" r="0.75" fill="#444"/><circle cx="313.17" cy="347.2" r="0.75" fill="#444"/><circle cx="313.14" cy="349.8" r="0.75" fill="#444"/><circle cx="313.68" cy="352.4" r="0.75" fill="#444"/><circle cx="313.61" cy="355" r="0.75" fill="#444"/><circle cx="313.15" cy="357.6" r="0.75" fill="#444"/><circle cx="313.4" cy="360.2" r="0.75" fill="#444"/><circle cx="313.29" cy="362.8" r="0.75" fill="#444"/><circle cx="313.29" cy="365.4" r="0.75" fill="#444"/><circle cx="313.31" cy="368" r="0.75" fill="#444"/><circle cx="313.49" cy="370.6" r="0.75" fill="#444"/><circle cx="313.45" cy="373.2" r="0.75" fill="#444"/><circle cx="313.32" cy="375.8" r="0.75" fill="#444"/><rect x="313" y="290" width="0.8" height="86" fill="#888" fill-opacity="0.4"/><path d="M318.86,255.49L319.04,257.41M319.72,257.43L320.28,253.97M328.85,259.69L329.05,261.71M330.1,261.83L331.3,258.17M332.8,258.2L333.6,261.1M338.52,264.22L343.58,256.48M345.91,256.74L346.99,259.66M349.49,264.16L352.01,267.44M355.81,270.87L356.09,271.03M359.57,274.67L361.83,278.73M365.08,282.68L367.82,285.02M370.21,289.27L370.89,293.63M371.77,293.64L373.13,286.36M374.56,286.22L376.04,289.98M377.25,289.81L378.05,281.59M379.11,281.47L379.39,282.33M381.7,282.67L387.7,274.13M391.45,273.3L400.85,278.7M404.62,282.11L409.18,288.39M412.59,292.29L419.71,299.01M423.46,302.61L430.44,309.39M433.46,308.87L437.74,300.33M439.91,295.6L440.79,293.5M448.69,292.95L460.61,296.55M465.5,298.31L491.3,309.19M494.28,312.73L494.42,313.37" fill="none" stroke="#707070" stroke-width="0.85"/><circle cx="317.1" cy="254.3" r="0.95" fill="#2a2a2a"/><circle cx="318.6" cy="252.9" r="0.95" fill="#2a2a2a"/><circle cx="319.3" cy="260" r="0.95" fill="#2a2a2a"/><circle cx="320.7" cy="251.4" r="0.95" fill="#2a2a2a"/><circle cx="322.9" cy="253.6" r="0.95" fill="#2a2a2a"/><circle cx="325.7" cy="252.9" r="0.95" fill="#2a2a2a"/><circle cx="327.9" cy="254.3" r="0.95" fill="#2a2a2a"/><circle cx="328.6" cy="257.1" r="0.95" fill="#2a2a2a"/><circle cx="329.3" cy="264.3" r="0.95" fill="#2a2a2a"/><circle cx="332.1" cy="255.7" r="0.95" fill="#2a2a2a"/><circle cx="334.3" cy="263.6" r="0.95" fill="#2a2a2a"/><circle cx="337.1" cy="266.4" r="0.95" fill="#2a2a2a"/><circle cx="345" cy="254.3" r="0.95" fill="#2a2a2a"/><circle cx="347.9" cy="262.1" r="0.95" fill="#2a2a2a"/><circle cx="353.6" cy="269.5" r="0.95" fill="#2a2a2a"/><circle cx="358.3" cy="272.4" r="0.95" fill="#2a2a2a"/><circle cx="363.1" cy="281" r="0.95" fill="#2a2a2a"/><circle cx="369.8" cy="286.7" r="0.95" fill="#2a2a2a"/><circle cx="371.3" cy="296.2" r="0.95" fill="#2a2a2a"/><circle cx="373.6" cy="283.8" r="0.95" fill="#2a2a2a"/><circle cx="377" cy="292.4" r="0.95" fill="#2a2a2a"/><circle cx="378.3" cy="279" r="0.95" fill="#2a2a2a"/><circle cx="380.2" cy="284.8" r="0.95" fill="#2a2a2a"/><circle cx="389.2" cy="272" r="0.95" fill="#2a2a2a"/><circle cx="403.1" cy="280" r="0.95" fill="#2a2a2a"/><circle cx="410.7" cy="290.5" r="0.95" fill="#2a2a2a"/><circle cx="421.6" cy="300.8" r="0.95" fill="#2a2a2a"/><circle cx="432.3" cy="311.2" r="0.95" fill="#2a2a2a"/><circle cx="438.9" cy="298" r="0.95" fill="#2a2a2a"/><circle cx="441.8" cy="291.1" r="0.95" fill="#2a2a2a"/><circle cx="446.2" cy="292.2" r="0.95" fill="#2a2a2a"/><circle cx="463.1" cy="297.3" r="0.95" fill="#2a2a2a"/><circle cx="493.7" cy="310.2" r="0.95" fill="#2a2a2a"/><circle cx="495" cy="315.9" r="0.95" fill="#2a2a2a"/>
<line x1="53.1" y1="100" x2="53.1" y2="191" stroke="#333" stroke-width="0.9" stroke-dasharray="1 1.4"/>
<line x1="53" y1="290" x2="53" y2="378" stroke="#333" stroke-width="0.9" stroke-dasharray="1 1.4"/>
<line x1="315.4" y1="60" x2="315.4" y2="191" stroke="#333" stroke-width="0.9" stroke-dasharray="1 1.4"/>
<line x1="315.3" y1="262" x2="315.3" y2="380" stroke="#333" stroke-width="0.9" stroke-dasharray="1 1.4"/>
<path d="M76.6,169.9 C75.8,175.4 68.6,176.4 63.1,182.4" fill="none" stroke="#111" stroke-width="1.35" stroke-linecap="round"/><polygon points="55.8,188.8 59.7,180.2 62.4,183.1 66,185.1" fill="#111"/>
<text x="80.2" y="170.8" font-size="10.8" fill="#333">3.7x10<tspan font-size="7.8" dx="0.5" dy="-5.2">-4</tspan></text>
<path d="M78,357 C77.2,362.5 70,363.5 64.5,369.5" fill="none" stroke="#111" stroke-width="1.35" stroke-linecap="round"/><polygon points="57.2,375.9 61.1,367.3 63.8,370.2 67.4,372.2" fill="#111"/>
<text x="82.3" y="357.4" font-size="10.8" fill="#333">3.7x10<tspan font-size="7.8" dx="0.5" dy="-5.2">-4</tspan></text>
<path d="M338.6,169.9 C337.8,175.4 330.6,176.4 325.1,182.4" fill="none" stroke="#111" stroke-width="1.35" stroke-linecap="round"/><polygon points="317.8,188.8 321.7,180.2 324.4,183.1 328,185.1" fill="#111"/>
<text x="342.7" y="171.4" font-size="10.8" fill="#333">3.4x10<tspan font-size="7.8" dx="0.5" dy="-5.2">-4</tspan></text>
<path d="M339.8,357.4 C339,362.9 331.8,363.9 326.3,369.9" fill="none" stroke="#111" stroke-width="1.35" stroke-linecap="round"/><polygon points="319,376.3 322.9,367.7 325.6,370.6 329.2,372.6" fill="#111"/>
<text x="344" y="357.6" font-size="10.8" fill="#333">3.4x10<tspan font-size="7.8" dx="0.5" dy="-5.2">-4</tspan></text>
</svg></body></html>
